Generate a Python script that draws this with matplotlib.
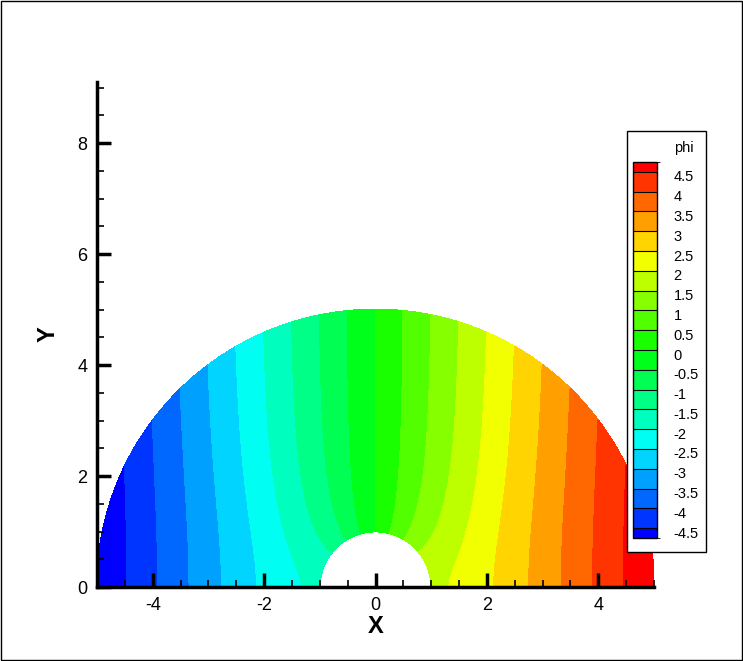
"""Velocity potential around a cylinder (Tecplot-style contour)."""

import numpy as np
import matplotlib
matplotlib.use("Agg")
import matplotlib.pyplot as plt
from matplotlib.colors import LinearSegmentedColormap, ListedColormap, BoundaryNorm
from matplotlib.patches import Rectangle
from matplotlib.transforms import ScaledTranslation
import matplotlib.cm as cm

plt.rcParams['font.family'] = ['Liberation Sans', 'DejaVu Sans']
plt.rcParams['axes.unicode_minus'] = False

# flow setup: phi = 5 on the outer boundary, cylinder of radius 1
r_cyl = 1.0
r_out = 5.0
phi_out = 5.0

# contour levels shown in the legend
levels = [-4.5, -4, -3.5, -3, -2.5, -2, -1.5, -1, -0.5, 0,
          0.5, 1, 1.5, 2, 2.5, 3, 3.5, 4, 4.5]
level_labels = ['-4.5', '-4', '-3.5', '-3', '-2.5', '-2', '-1.5', '-1', '-0.5', '0',
                '0.5', '1', '1.5', '2', '2.5', '3', '3.5', '4', '4.5']
x_ticks = [-4, -2, 0, 2, 4]
y_ticks = [0, 2, 4, 6, 8]

# polar mesh of the half annulus
r = np.linspace(r_cyl, r_out, 200)
th = np.linspace(0, np.pi, 400)
R, TH = np.meshgrid(r, th)
X = R * np.cos(TH)
Y = R * np.sin(TH)
amp = phi_out / (r_out + r_cyl**2 / r_out)
phi = amp * (R + r_cyl**2 / R) * np.cos(TH)

# Tecplot "modern" style ramp
ramp = LinearSegmentedColormap.from_list(
    'modern', [(0, 0, 1), (0, 1, 1), (0, 1, 0), (1, 1, 0), (1, 0, 0)])
n_bands = len(levels) + 1
band_colors = [ramp(k / (n_bands - 1)) for k in range(n_bands)]

fig = plt.figure(figsize=(7.43, 6.61), dpi=100)
ax = fig.add_axes([97 / 743, (661 - 587) / 661, 557 / 743, 505 / 661])

bounds = [-100] + levels + [100]
cs = ax.contourf(X, Y, phi, levels=bounds, colors=band_colors)
cs.set_edgecolor('face')
cs.set_linewidth(0.6)

ax.set_xlim(-5, 5)
ax.set_ylim(0, 9.1)
ax.spines['top'].set_visible(False)
ax.spines['right'].set_visible(False)
ax.spines['left'].set_linewidth(2.5)
ax.spines['bottom'].set_linewidth(2.5)
ax.set_xticks(x_ticks)
ax.set_yticks(y_ticks)
ax.set_xticks(np.arange(-5, 5.01, 0.5), minor=True)
ax.set_yticks(np.arange(0, 9.01, 0.5), minor=True)
ax.tick_params(which='major', direction='in', length=10, width=2.5, labelsize=13, pad=7)
ax.tick_params(which='minor', direction='in', length=5, width=1.2)
ax.set_xlabel('X', fontsize=17, fontweight='bold', labelpad=1)
ax.set_ylabel('Y', fontsize=17, fontweight='bold', labelpad=13)
ax.set_zorder(1)

# legend box
box = Rectangle((627 / 743, 1 - 552 / 661), 79 / 743, 421 / 661,
                transform=fig.transFigure, facecolor='white', edgecolor='black',
                linewidth=1, zorder=5)
fig.patches.append(box)
fig.text(694 / 743, 1 - 148 / 661, 'phi', fontsize=10.5, ha='right', va='center', zorder=6)

cax = fig.add_axes([633 / 743, 1 - 538 / 661, 24 / 743, 376 / 661])
cax.set_zorder(6)
cb_bounds = [-4.75] + levels + [4.75]
cmap = ListedColormap(band_colors)
norm = BoundaryNorm(cb_bounds, cmap.N)
cb = fig.colorbar(cm.ScalarMappable(norm=norm, cmap=cmap), cax=cax,
                  boundaries=cb_bounds, spacing='proportional', drawedges=True,
                  ticks=levels)
cb.outline.set_linewidth(1)
cb.dividers.set_linewidth(0.8)
cb.ax.set_yticklabels(level_labels)
cb.ax.tick_params(length=0, labelsize=10.5, pad=12)
shift = ScaledTranslation(0, -0.04, fig.dpi_scale_trans)
for lbl in cb.ax.get_yticklabels():
    lbl.set_transform(lbl.get_transform() + shift)

# frame around the whole picture
fig.patches.append(Rectangle((0.001, 0.002), 0.997, 0.996, transform=fig.transFigure,
                             fill=False, edgecolor='black', linewidth=1))

fig.savefig('out.png', dpi=100)
